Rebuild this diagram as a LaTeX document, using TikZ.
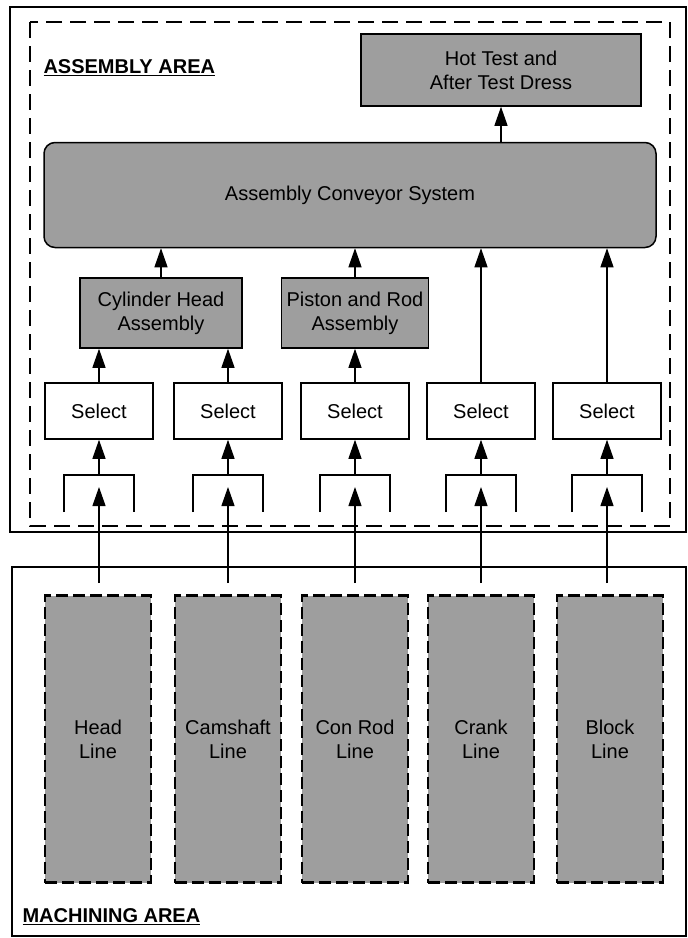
\documentclass[tikz,border=0pt]{standalone}
\usepackage{fontspec}
\setmainfont{Liberation Sans}
\usetikzlibrary{shapes,arrows.meta,positioning,calc}

\begin{document}
\begin{tikzpicture}[x=1pt,y=-1pt,
  font=\fontsize{20}{24}\selectfont,
  box/.style={rectangle, draw, line width=1.5pt, align=center, inner sep=0pt},
  grigio/.style={box, fill=black!38},
  sel/.style={box, minimum width=108pt, minimum height=56pt},
  linea/.style={rectangle, draw, dash pattern=on 12pt off 5pt, line width=2.4pt, fill=black!38, align=center, minimum width=106pt, minimum height=287pt},
  freccia/.style={-{Triangle[width=13pt,length=19pt]}, line width=1.2pt}]
\useasboundingbox (0,0) rectangle (688,938);

% aree
\draw[line width=1.5pt] (10,7) rectangle (686,532);
\draw[line width=2.2pt, dash pattern=on 16pt off 8pt] (30,22) rectangle (670,526);
\draw[line width=1.5pt] (12,567) rectangle (686,936);
\node[anchor=west, font=\fontsize{20}{24}\selectfont\bfseries] (asse) at (40,68) {\underline{ASSEMBLY AREA}};
\node[anchor=west, font=\fontsize{20}{24}\selectfont\bfseries] (mach) at (19,917) {\underline{MACHINING AREA}};

% assemblaggio
\node[grigio, minimum width=280pt, minimum height=72pt] (hot) at (501,70) {Hot Test and\\After Test Dress};
\node[grigio, rounded corners=11pt, minimum width=612pt, minimum height=105pt] (conv) at (350,195) {Assembly Conveyor System};
\node[grigio, minimum width=162pt, minimum height=70pt] (cyl) at (161,313) {Cylinder Head\\Assembly};
\node[grigio, minimum width=147pt, minimum height=70pt] (pist) at (355,313) {Piston and Rod\\Assembly};

\node[sel] (s1) at (99,411) {Select};
\node[sel] (s2) at (228,411) {Select};
\node[sel] (s3) at (355,411) {Select};
\node[sel] (s4) at (481,411) {Select};
\node[sel] (s5) at (607,411) {Select};

% linee di lavorazione
\node[linea] (l1) at (98,739) {Head\\Line};
\node[linea] (l2) at (228,739) {Camshaft\\Line};
\node[linea] (l3) at (355,739) {Con Rod\\Line};
\node[linea] (l4) at (481,739) {Crank\\Line};
\node[linea] (l5) at (610,739) {Block\\Line};

% raccordi
\coordinate (b1) at (99,475);
\coordinate (b2) at (228,475);
\coordinate (b3) at (355,475);
\coordinate (b4) at (481,475);
\coordinate (b5) at (607,475);
\draw[line width=1.2pt] ($(b1)+(-35,37)$) |- ($(b1)+(35,0)$) -- ++(0,37);
\draw[line width=1.2pt] ($(b2)+(-35,37)$) |- ($(b2)+(35,0)$) -- ++(0,37);
\draw[line width=1.2pt] ($(b3)+(-35,37)$) |- ($(b3)+(35,0)$) -- ++(0,37);
\draw[line width=1.2pt] ($(b4)+(-35,37)$) |- ($(b4)+(35,0)$) -- ++(0,37);
\draw[line width=1.2pt] ($(b5)+(-35,37)$) |- ($(b5)+(35,0)$) -- ++(0,37);

\coordinate (m1) at (99,583);
\coordinate (m2) at (228,583);
\coordinate (m3) at (355,583);
\coordinate (m4) at (481,583);
\coordinate (m5) at (607,583);
\coordinate (t1) at (99,487);
\coordinate (t2) at (228,487);
\coordinate (t3) at (355,487);
\coordinate (t4) at (481,487);
\coordinate (t5) at (607,487);

\draw[freccia] (m1) -- (t1);
\draw[freccia] (m2) -- (t2);
\draw[freccia] (m3) -- (t3);
\draw[freccia] (m4) -- (t4);
\draw[freccia] (m5) -- (t5);

\draw[freccia] (b1) -- (s1.south);
\draw[freccia] (b2) -- (s2.south);
\draw[freccia] (b3) -- (s3.south);
\draw[freccia] (b4) -- (s4.south);
\draw[freccia] (b5) -- (s5.south);

\draw[freccia] (s1.north) -- (s1.north |- cyl.south);
\draw[freccia] (s2.north) -- (s2.north |- cyl.south);
\draw[freccia] (s3.north) -- (pist.south);
\draw[freccia] (s4.north) -- (s4.north |- conv.south);
\draw[freccia] (s5.north) -- (s5.north |- conv.south);
\draw[freccia] (cyl.north) -- (cyl.north |- conv.south);
\draw[freccia] (pist.north) -- (pist.north |- conv.south);
\draw[freccia] (conv.north -| hot.south) -- (hot.south);
\end{tikzpicture}
\end{document}
